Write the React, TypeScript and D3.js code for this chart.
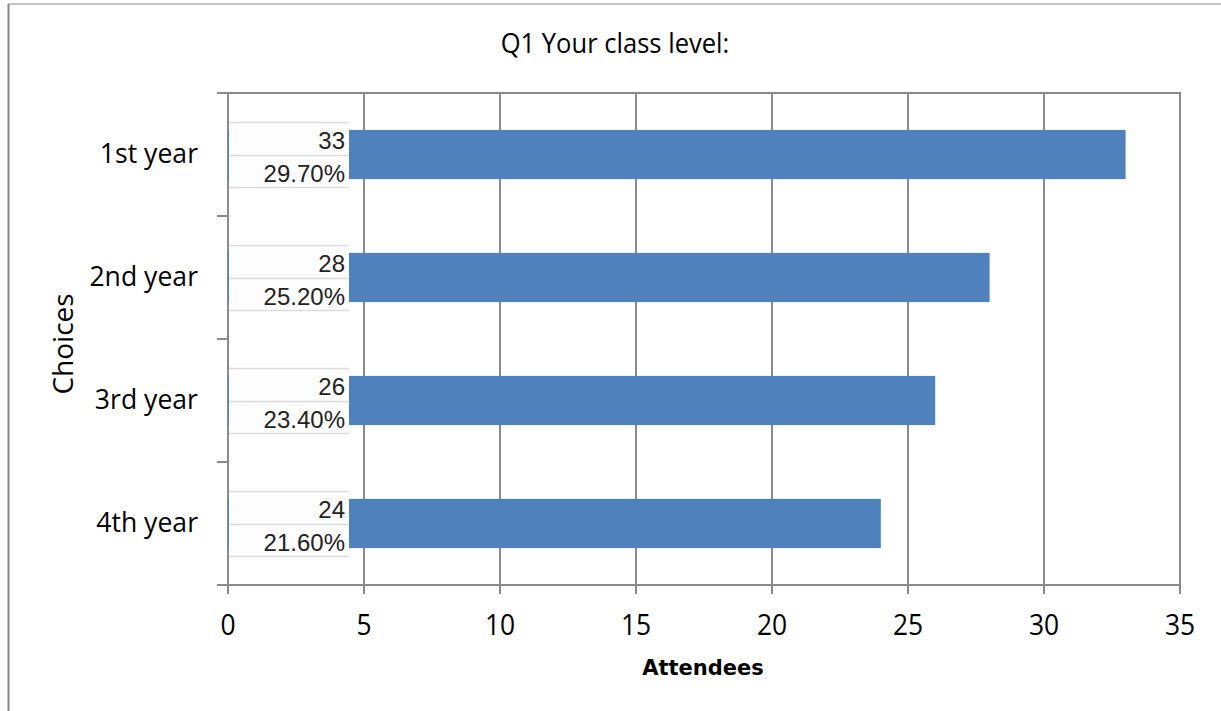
import React from "react";
import * as d3 from "d3";

const categories = ["1st year", "2nd year", "3rd year", "4th year"];
const counts = [33, 28, 26, 24];
const percents = ["29.70%", "25.20%", "23.40%", "21.60%"];
const xTicks = [0, 5, 10, 15, 20, 25, 30, 35];
const title = "Q1 Your class level:";
const xTitle = "Attendees";
const yTitle = "Choices";

const W = 1221;
const H = 711;
const FONT = "'Open Sans', 'Noto Sans', sans-serif";
const LFONT = "'Liberation Sans', Arial, sans-serif";

export default function App() {
  const left = 228, right = 1180, top = 93, bottom = 585;
  const x = d3.scaleLinear().domain([0, 35]).range([left, right]);
  const y = d3.scaleBand<string>().domain(categories).range([top, bottom]).paddingInner(0.6).paddingOuter(0.3);
  const band = (bottom - top) / categories.length;
  const grid = "#8a8a8a";
  return (
    <svg width={W} height={H} style={{ position: "absolute", left: 0, top: 0, background: "#fff" }}>
      {/* outer frame */}
      <line x1={8} y1={4} x2={W} y2={4} stroke="#b0b0b0" strokeWidth={1.5} />
      <line x1={8.5} y1={4} x2={8.5} y2={H} stroke="#888" strokeWidth={2} />
      <text x={615} y={53} textAnchor="middle" fontFamily={FONT} fontSize={27.5} fill="#000" transform="translate(615,0) scale(0.93,1) translate(-615,0)">{title}</text>
      {/* gridlines */}
      {xTicks.map((t) => (
        <line key={"g" + t} x1={x(t)} x2={x(t)} y1={top} y2={bottom + 9} stroke={grid} strokeWidth={2} />
      ))}
      {/* plot frame */}
      <line x1={left - 11} x2={right + 1} y1={top} y2={top} stroke={grid} strokeWidth={2} />
      <line x1={left - 11} x2={right + 1} y1={bottom} y2={bottom} stroke={grid} strokeWidth={2} />
      {d3.range(categories.length + 1).map((i) => (
        <line key={"yt" + i} x1={left - 11} x2={left} y1={top + i * band} y2={top + i * band} stroke={grid} strokeWidth={2} />
      ))}
      {/* bars */}
      {categories.map((c, i) => (
        <rect key={c} x={x(0)} y={y(c)!} width={x(counts[i]) - x(0)} height={y.bandwidth()} fill="#4F81BD" />
      ))}
      {/* data label boxes */}
      {categories.map((c, i) => {
        const cy = y(c)! + y.bandwidth() / 2;
        const bx = x(0) + 1;
        const bw = 349 - bx;
        return (
          <g key={"lb" + c}>
            <rect x={bx} y={cy - 32} width={bw} height={65} fill="#fdfdfd" />
            <line x1={bx} x2={bx + bw} y1={cy - 32} y2={cy - 32} stroke="#dcdcdc" strokeWidth={1.5} />
            <line x1={bx} x2={bx + bw} y1={cy + 1} y2={cy + 1} stroke="#dcdcdc" strokeWidth={1.5} />
            <line x1={bx} x2={bx + bw} y1={cy + 33} y2={cy + 33} stroke="#dcdcdc" strokeWidth={1.5} />
            <text x={345} y={cy - 6} textAnchor="end" fontFamily={LFONT} fontSize={24} fill="#222">{counts[i]}</text>
            <text x={345} y={cy + 27} textAnchor="end" fontFamily={LFONT} fontSize={24} fill="#222">{percents[i]}</text>
          </g>
        );
      })}
      {/* category labels */}
      {categories.map((c) => (
        <text key={"cl" + c} x={198} y={y(c)! + y.bandwidth() / 2 + 9} textAnchor="end" fontFamily={FONT} fontSize={28} fill="#000" transform={`translate(198,0) scale(0.95,1) translate(-198,0)`}>{c}</text>
      ))}
      {/* x tick labels */}
      {xTicks.map((t) => (
        <text key={"xl" + t} x={x(t)} y={635} textAnchor="middle" fontFamily={FONT} fontSize={30} fill="#000" transform={`translate(${x(t)},0) scale(0.88,1) translate(${-x(t)},0)`}>{t}</text>
      ))}
      <text x={703} y={675} textAnchor="middle" fontFamily="'DejaVu Sans', sans-serif" fontWeight="bold" fontSize={21} fill="#000">{xTitle}</text>
      <text transform={`translate(73,344) rotate(-90)`} textAnchor="middle" fontFamily={FONT} fontSize={28} fill="#000">{yTitle}</text>
    </svg>
  );
}
